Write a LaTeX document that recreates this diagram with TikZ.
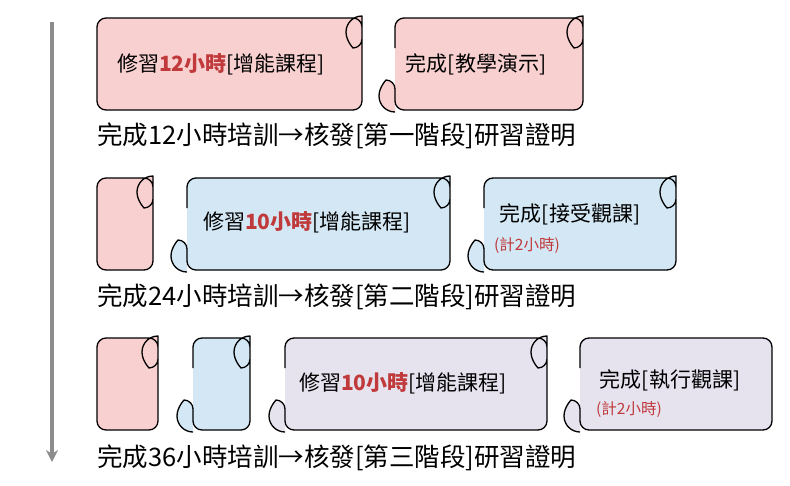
\documentclass[tikz,border=0pt]{standalone}
\usepackage{fontspec}
\setmainfont{Noto Sans CJK TC}
\usetikzlibrary{arrows.meta,positioning}
\definecolor{pinkfill}{HTML}{F9D0D0}
\definecolor{bluefill}{HTML}{D3E8F4}
\definecolor{lilacfill}{HTML}{E6E3EF}
\definecolor{hourred}{HTML}{C0393B}
\tikzset{
  piece/.style={draw=black,line width=1.3pt,line join=round},
  lbl/.style={inner sep=0pt,font=\fontsize{21}{24}\selectfont},
  sub/.style={inner sep=0pt,text=hourred,font=\fontsize{15.5}{18}\selectfont},
  caption/.style={inner sep=0pt,anchor=west,font=\fontsize{25.5}{28}\selectfont}
}
% \puzzle{x1}{y1}{x2}{y2}{fill}{left bump}{right notch}
\newcommand\puzzle[7]{%
  \pgfmathsetmacro\yc{(#2+#4)/2}%
  \draw[piece,fill=#5] (#1,\yc-16) [rounded corners=9pt] -- (#1,#2) -- (#3,#2) -- (#3,\yc-16) [sharp corners]
    \ifnum#7=1 arc(-90:-270:16pt) \else -- (#3,\yc+16) \fi
    [rounded corners=9pt] -- (#3,#4) -- (#1,#4) -- (#1,\yc+16) [sharp corners]
    \ifnum#6=1 arc(90:270:16pt) \else -- cycle \fi;}
\newcommand\hrs[1]{\textbf{\textcolor{hourred}{#1小時}}}
\begin{document}
\begin{tikzpicture}[x=1pt,y=-1pt]
  \useasboundingbox (0,0) rectangle (790,485);
  % timeline
  \coordinate (top) at (52,22);
  \coordinate (bottom) at (52,462);
  \draw[line width=3.5pt,color=black!45,-{Stealth[length=12pt,width=12pt]}] (top) -- (bottom);
  % stage one
  \puzzle{97}{18}{362}{110}{pinkfill}{0}{1}
  \puzzle{395}{18}{583}{110}{pinkfill}{1}{1}
  \node[lbl] (a1) at (221,64) {修習\hrs{12}[增能課程]};
  \node[lbl] (a2) at (476,64) {完成[教學演示]};
  \node[caption] (c1) at (97,136) {完成12小時培訓→核發[第一階段]研習證明};
  % stage two
  \puzzle{97}{178}{153}{270}{pinkfill}{0}{1}
  \puzzle{187}{178}{450}{270}{bluefill}{1}{1}
  \puzzle{484}{178}{676}{270}{bluefill}{1}{1}
  \node[lbl] (b1) at (307,222) {修習\hrs{10}[增能課程]};
  \node[lbl] (b2) at (570,214) {完成[接受觀課]};
  \node[sub,anchor=west] (b3) at (494,245) {(計2小時)};
  \node[caption] (c2) at (97,297) {完成24小時培訓→核發[第二階段]研習證明};
  % stage three
  \puzzle{97}{338}{158}{430}{pinkfill}{0}{1}
  \puzzle{193}{338}{250}{430}{bluefill}{1}{1}
  \puzzle{285}{338}{547}{430}{lilacfill}{1}{1}
  \puzzle{580}{338}{772}{430}{lilacfill}{1}{0}
  \node[lbl] (d1) at (403,383) {修習\hrs{10}[增能課程]};
  \node[lbl] (d2) at (670,380) {完成[執行觀課]};
  \node[sub,anchor=west] (d3) at (596,409) {(計2小時)};
  \node[caption] (c3) at (97,458) {完成36小時培訓→核發[第三階段]研習證明};
\end{tikzpicture}
\end{document}
